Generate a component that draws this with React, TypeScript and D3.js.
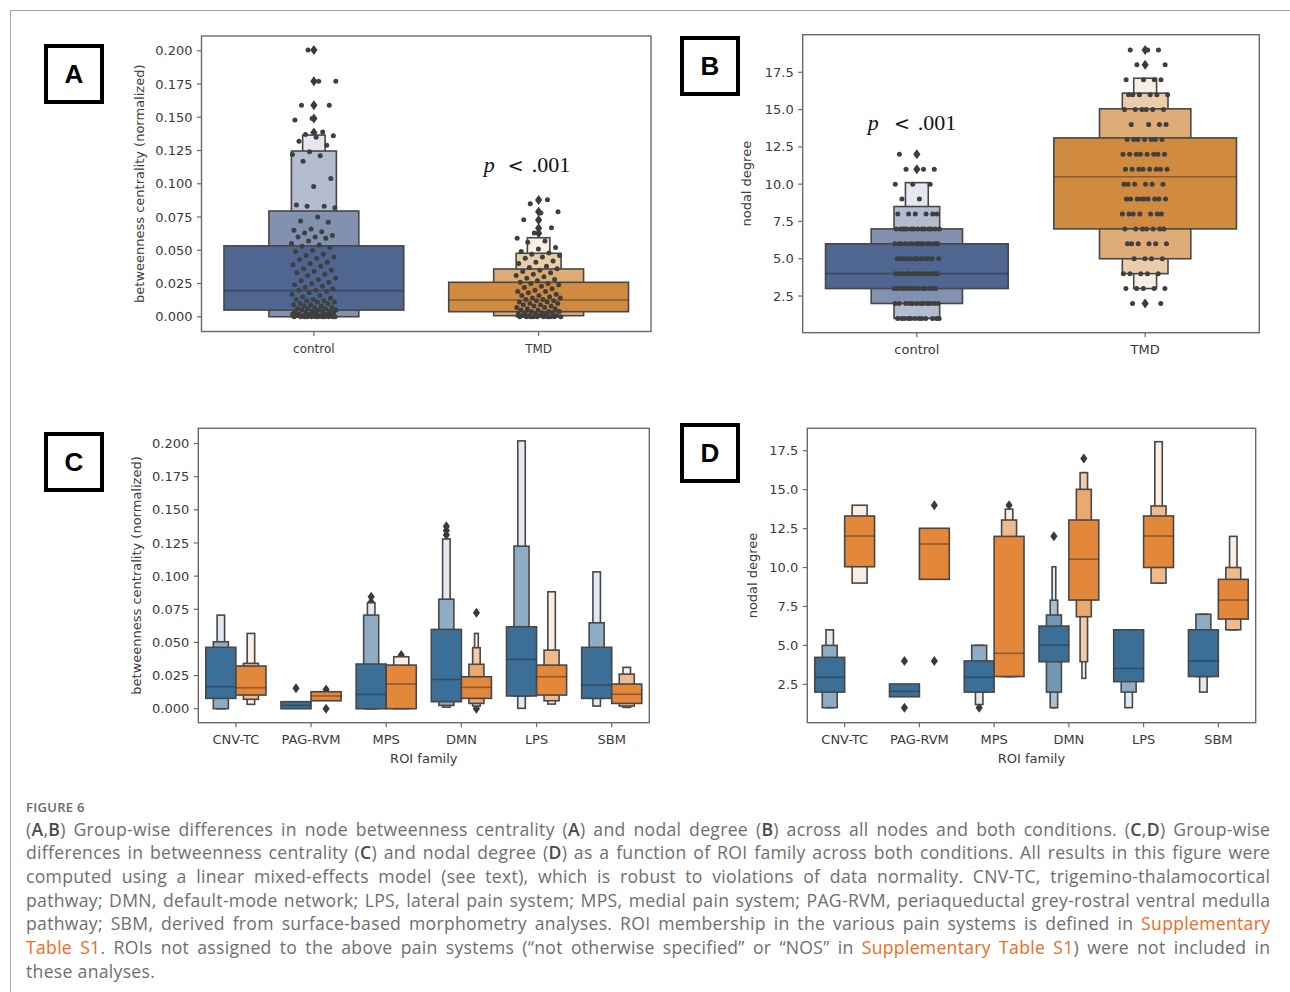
import React, { useEffect, useMemo } from "react";
import * as d3 from "d3";

// ---------------- DATA ----------------
const groupsAB = ["control", "TMD"];
const families = ["CNV-TC", "PAG-RVM", "MPS", "DMN", "LPS", "SBM"];
const betweennessTicks = [0, 0.025, 0.05, 0.075, 0.1, 0.125, 0.15, 0.175, 0.2];
const degreeTicks = [2.5, 5, 7.5, 10, 12.5, 15, 17.5];

// Panel A – letter-value boxes, innermost first: [low, high]
const aControlBoxes = [[0.005, 0.0533], [0.0, 0.0795], [0.0, 0.1246], [0.0, 0.1366]];
const aControlMedian = 0.0196;
const aControlOutliers = [0.1385, 0.149, 0.159, 0.177, 0.2005];
const aTmdBoxes = [[0.0038, 0.0259], [0.0008, 0.0359], [0.0, 0.0477], [0.0, 0.0594]];
const aTmdMedian = 0.0126;
const aTmdOutliers = [0.0627, 0.0665, 0.0727, 0.079, 0.0877];
const aControlPoints = [
  0.2005, 0.177, 0.177, 0.159, 0.159, 0.149, 0.148, 0.139, 0.137, 0.136, 0.135, 0.132, 0.129, 0.124,
  0.122, 0.121, 0.117, 0.104, 0.098, 0.084, 0.083, 0.083, 0.082, 0.075, 0.072, 0.071, 0.066, 0.065,
  0.064, 0.063, 0.061, 0.06, 0.06, 0.059, 0.057, 0.055, 0.054, 0.053, 0.052, 0.05, 0.049, 0.047, 0.046,
  0.045, 0.044, 0.043, 0.041, 0.04, 0.039, 0.038, 0.036, 0.035, 0.034, 0.033, 0.032, 0.031, 0.029,
  0.028, 0.027, 0.026, 0.025, 0.024, 0.023, 0.022, 0.021, 0.02, 0.02, 0.019, 0.018, 0.017, 0.016,
  0.015, 0.014, 0.013, 0.013, 0.012, 0.012, 0.011, 0.011, 0.01, 0.01, 0.009, 0.009, 0.008, 0.008,
  0.007, 0.007, 0.006, 0.006, 0.006, 0.005, 0.005, 0.005, 0.004, 0.004, 0.004, 0.003, 0.003, 0.003,
  0.003, 0.002, 0.002, 0.002, 0.002, 0.001, 0.001, 0.001, 0.001, 0.001, 0, 0, 0, 0, 0, 0, 0, 0, 0, 0,
  0, 0,
];
const aTmdPoints = [
  0.088, 0.085, 0.079, 0.078, 0.073, 0.067, 0.063, 0.059, 0.057, 0.056, 0.052, 0.051, 0.049, 0.048,
  0.047, 0.046, 0.045, 0.044, 0.042, 0.041, 0.04, 0.038, 0.037, 0.036, 0.035, 0.034, 0.033, 0.032,
  0.031, 0.03, 0.029, 0.028, 0.027, 0.026, 0.025, 0.025, 0.024, 0.023, 0.022, 0.021, 0.02, 0.019,
  0.019, 0.018, 0.017, 0.016, 0.016, 0.015, 0.014, 0.014, 0.013, 0.013, 0.012, 0.012, 0.011, 0.011,
  0.01, 0.01, 0.009, 0.009, 0.008, 0.008, 0.007, 0.007, 0.006, 0.006, 0.005, 0.005, 0.004, 0.004,
  0.004, 0.003, 0.003, 0.003, 0.002, 0.002, 0.002, 0.001, 0.001, 0.001, 0.001, 0, 0, 0, 0, 0, 0, 0,
  0, 0, 0,
];

// Panel B – nodal degree
const bControlBoxes = [[3, 6], [2, 7], [1, 8.5], [1, 10.1]];
const bControlMedian = 4;
const bControlOutliers = [11, 12];
const bTmdBoxes = [[7, 13.1], [5, 15.05], [4, 16.1], [3, 17.1]];
const bTmdMedian = 10.5;
const bTmdOutliers = [2, 18, 19];
const bDegreeLevels = [1, 2, 3, 4, 5, 6, 7, 8, 9, 10, 11, 12, 13, 14, 15, 16, 17, 18, 19];
const bControlCounts = [12, 12, 14, 14, 12, 15, 14, 6, 2, 3, 3, 2, 0, 0, 0, 0, 0, 0, 0];
const bTmdCounts = [0, 2, 5, 5, 4, 6, 7, 7, 9, 6, 8, 8, 7, 4, 6, 6, 4, 2, 3];

// Panel C – betweenness by ROI family
const cControlBoxes = [
  [[0.0078, 0.0463], [0.0, 0.0505], [0.0, 0.0706]],
  [[0.0, 0.0053]],
  [[0.0, 0.0337], [0.0, 0.0706], [0.0, 0.0799]],
  [[0.0053, 0.0598], [0.0025, 0.0826], [0.0012, 0.128]],
  [[0.0096, 0.0618], [0.0096, 0.1226], [0.0003, 0.202]],
  [[0.0078, 0.0463], [0.0078, 0.0648], [0.002, 0.1032]],
];
const cControlMedians = [0.0166, 0.0025, 0.0108, 0.0221, 0.0372, 0.0179];
const cControlOutliers = [[], [0.0154], [0.0805, 0.0845], [0.131, 0.1345, 0.1377], [], []];
const cTmdBoxes = [
  [[0.0103, 0.0322], [0.0071, 0.0342], [0.0033, 0.0568]],
  [[0.006, 0.0128]],
  [[0.0, 0.0329], [0.0, 0.0392]],
  [[0.0078, 0.0241], [0.004, 0.0335], [0.002, 0.046], [0.001, 0.0568]],
  [[0.0103, 0.0329], [0.006, 0.0442], [0.0035, 0.0882]],
  [[0.004, 0.0186], [0.002, 0.0261], [0.001, 0.0312]],
];
const cTmdMedians = [0.0158, 0.0096, 0.0186, 0.0161, 0.0241, 0.0109];
const cTmdOutliers = [[], [0.0, 0.0145], [0.0405], [0.0, 0.0723], [], []];

// Panel D – nodal degree by ROI family
const dControlBoxes = [
  [[2.0, 4.23], [1.0, 5.0], [1.0, 6.0]],
  [[1.7, 2.52]],
  [[2.0, 4.0], [2.0, 5.0], [1.2, 5.0]],
  [[3.95, 6.24], [2.0, 6.95], [1.0, 7.9], [1.0, 10.05]],
  [[2.67, 6.0], [2.0, 6.0], [1.0, 6.0]],
  [[3.0, 6.0], [3.0, 7.0], [2.0, 7.0]],
];
const dControlMedians = [2.95, 2.05, 2.95, 5.02, 3.52, 4.01];
const dControlOutliers = [[], [1, 4], [1], [12], [], []];
const dTmdBoxes = [
  [[10.05, 13.31], [9.0, 14.0]],
  [[9.24, 12.52]],
  [[3.0, 12.0], [3.0, 13.05], [3.0, 13.75]],
  [[7.91, 13.05], [6.84, 15.02], [3.95, 16.09], [2.88, 16.09]],
  [[10.0, 13.31], [9.0, 13.95], [9.0, 18.08]],
  [[6.69, 9.24], [6.0, 10.0], [6.0, 12.0]],
];
const dTmdMedians = [12.02, 11.51, 4.49, 10.53, 12.02, 7.91];
const dTmdOutliers = [[], [4, 14], [14], [17], [], []];

const captionLines = [
  "(**A**,**B**) Group-wise differences in node betweenness centrality (**A**) and nodal degree (**B**) across all nodes and both conditions. (**C**,**D**) Group-wise",
  "differences in betweenness centrality (**C**) and nodal degree (**D**) as a function of ROI family across both conditions. All results in this figure were",
  "computed using a linear mixed-effects model (see text), which is robust to violations of data normality. CNV-TC, trigemino-thalamocortical",
  "pathway; DMN, default-mode network; LPS, lateral pain system; MPS, medial pain system; PAG-RVM, periaqueductal grey-rostral ventral medulla",
  "pathway; SBM, derived from surface-based morphometry analyses. ROI membership in the various pain systems is defined in ^^Supplementary^^",
  "^^Table^^ ^^S1^^. ROIs not assigned to the above pain systems (\u201cnot otherwise specified\u201d or \u201cNOS\u201d in ^^Supplementary^^ ^^Table^^ ^^S1^^) were not included in",
  "these analyses.",
];

// ---------------- STYLE ----------------
const EDGE = "#474747";
const SPINE = "#6e6868";
const TICKTXT = "#3a3a3a";
const BLUE_AB = "#4f6690";
const ORANGE_AB = "#d18b40";
const BLUE_CD = "#3b6f98";
const ORANGE_CD = "#e3873a";
const DOT = "#3f3f3f";
const SANS = "'DejaVu Sans', sans-serif";

const jit = (i: number) => ((i * 0.6180339887 + 0.37) % 1) * 2 - 1;

function levelColors(base: string, k: number) {
  return d3.range(k).map((i) => d3.interpolateRgb(base, "#ffffff")(k > 1 ? (0.85 * i) / (k - 1) : 0));
}

function Diamond({ cx, cy }: { cx: number; cy: number }) {
  return <path d={`M${cx},${cy - 5}L${cx + 3.6},${cy}L${cx},${cy + 5}L${cx - 3.6},${cy}Z`} fill="#3a3a3a" />;
}

function LetterValues({ boxes, median, outliers, cx, width, y, base }: any) {
  const k = boxes.length;
  const cols = levelColors(base, k);
  const els: any[] = [];
  outliers.forEach((o: number, i: number) => els.push(<Diamond key={"o" + i} cx={cx} cy={y(o)} />));
  for (let i = k - 1; i >= 0; i--) {
    const [lo, hi] = boxes[i];
    const w = width * Math.pow(0.5, i);
    els.push(
      <rect key={"b" + i} x={cx - w / 2} y={y(hi)} width={w} height={Math.max(0.5, y(lo) - y(hi))}
        fill={cols[i]} stroke={EDGE} strokeWidth={1.6} />
    );
  }
  els.push(
    <line key="m" x1={cx - width / 2} x2={cx + width / 2} y1={y(median)} y2={y(median)}
      stroke="#262626" strokeOpacity={0.45} strokeWidth={1.6} />
  );
  return <g>{els}</g>;
}

function Axes({ x0, x1, y0, y1, y, ticks, fmt, cats, xc, ylabel, ylabelX, xlabel, catFont }: any) {
  const f = d3.format(fmt);
  return (
    <g fontFamily={SANS}>
      <rect x={x0} y={y0} width={x1 - x0} height={y1 - y0} fill="none" stroke={SPINE} strokeWidth={1.4} />
      {ticks.map((t: number) => (
        <g key={t}>
          <line x1={x0 - 4.5} x2={x0} y1={y(t)} y2={y(t)} stroke={SPINE} strokeWidth={1.2} />
          <text x={x0 - 9} y={y(t)} dy="0.35em" textAnchor="end" fontSize={13} fill={TICKTXT}>{f(t)}</text>
        </g>
      ))}
      {cats.map((c: string) => (
        <g key={c}>
          <line x1={xc(c)} x2={xc(c)} y1={y1} y2={y1 + 4.5} stroke={SPINE} strokeWidth={1.2} />
          <text x={xc(c)} y={y1 + 21} textAnchor="middle" fontSize={catFont} fill={TICKTXT}>{c}</text>
        </g>
      ))}
      <text transform={`translate(${ylabelX},${(y0 + y1) / 2}) rotate(-90)`} textAnchor="middle" dy="0.35em"
        fontSize={13} fill={TICKTXT}>{ylabel}</text>
      {xlabel && (
        <text x={(x0 + x1) / 2} y={y1 + 40} textAnchor="middle" fontSize={13} fill={TICKTXT}>{xlabel}</text>
      )}
    </g>
  );
}

function PLabel({ x, y, cx, cy }: any) {
  return (
    <g>
      <text x={x} y={y} fontFamily="'Liberation Serif', serif" fontStyle="italic" fontSize={22} fill="#111">p</text>
      <text x={cx} y={y} fontFamily="'DejaVu Serif', serif" fontSize={19} fill="#111" textAnchor="middle">{"<"}</text>
      <text x={cy} y={y} fontFamily="'Liberation Serif', serif" fontSize={22} fill="#111">.001</text>
    </g>
  );
}

function LetterBox({ x, y, w, h, label }: any) {
  return (
    <g>
      <rect x={x + 2} y={y + 2} width={w - 4} height={h - 4} fill="#fff" stroke="#000" strokeWidth={4} />
      <text x={x + w / 2} y={y + h / 2} dy="0.36em" textAnchor="middle" fontFamily="'Liberation Sans', Arial, sans-serif"
        fontWeight="bold" fontSize={26} fill="#000">{label}</text>
    </g>
  );
}

function parseWord(word: string) {
  const segs: { t: string; kind: string }[] = [];
  const re = /\*\*([^*]+)\*\*|\^\^([^\^]+)\^\^|([^*\^]+)/g;
  let m;
  while ((m = re.exec(word))) {
    if (m[1]) segs.push({ t: m[1], kind: "b" });
    else if (m[2]) segs.push({ t: m[2], kind: "l" });
    else segs.push({ t: m[3], kind: "n" });
  }
  return segs;
}

function Caption() {
  const FS = 17.6;
  const LS = 0.3;
  const X0 = 26, X1 = 1270;
  const layout = useMemo(() => {
    const ctx = document.createElement("canvas").getContext("2d")!;
    const fontFor = (k: string) => `${k === "b" ? 600 : 400} ${FS}px "Open Sans"`;
    ctx.font = fontFor("n");
    const space = ctx.measureText(" ").width + LS;
    return captionLines.map((line, li) => {
      const words = line.split(" ").map(parseWord);
      const widths = words.map((segs) =>
        segs.reduce((s, sg) => {
          ctx.font = fontFor(sg.kind);
          return s + ctx.measureText(sg.t).width + LS * sg.t.length;
        }, 0)
      );
      const total = widths.reduce((a, b) => a + b, 0);
      const last = li === captionLines.length - 1;
      const gap = last ? space : (X1 - X0 - total + LS) / (words.length - 1);
      let x = X0;
      const xs = widths.map((w) => { const r = x; x += w + gap; return r; });
      return { words, xs };
    });
  }, []);
  return (
    <g fontFamily="'Open Sans', sans-serif" fontSize={FS} letterSpacing={LS}>
      <text x={26} y={811.5} fontSize={13} fontWeight={600} fill="#6a6a6a" letterSpacing={0.3}>FIGURE 6</text>
      {layout.map((ln, li) => (
        <text key={li} y={835.5 + li * 23.7} fill="#6e6e6e">
          {ln.words.map((segs, wi) =>
            segs.map((sg, si) => (
              <tspan key={wi + "_" + si} x={si === 0 ? ln.xs[wi] : undefined}
                fontWeight={sg.kind === "b" ? 600 : 400}
                fill={sg.kind === "l" ? "#f06a22" : sg.kind === "b" ? "#4a4a4a" : "#6e6e6e"}>{sg.t}</tspan>
            ))
          )}
        </text>
      ))}
    </g>
  );
}

export default function App() {
  useEffect(() => {
    document.body.style.margin = "0";
  }, []);

  // Panel A
  const A = { x0: 201.5, x1: 651, y0: 36, y1: 331.5 };
  const ayA = d3.scaleLinear().domain([-0.0111, 0.2111]).range([A.y1, A.y0]);
  const axA = d3.scaleBand().domain(groupsAB).range([A.x0, A.x1]);
  const cA = (g: string) => (axA(g) as number) + axA.bandwidth() / 2;
  const bwA = axA.bandwidth();

  // Panel B
  const B = { x0: 802.7, x1: 1259.3, y0: 34.7, y1: 332.7 };
  const ayB = d3.scaleLinear().domain([0.04, 20.02]).range([B.y1, B.y0]);
  const axB = d3.scaleBand().domain(groupsAB).range([B.x0, B.x1]);
  const cB = (g: string) => (axB(g) as number) + axB.bandwidth() / 2;
  const bwB = axB.bandwidth();

  // Panel C
  const C = { x0: 198.3, x1: 649.3, y0: 428.3, y1: 722.7 };
  const ayC = d3.scaleLinear().domain([-0.01055, 0.2115]).range([C.y1, C.y0]);
  const axC = d3.scaleBand().domain(families).range([C.x0, C.x1]);
  const cC = (g: string) => (axC(g) as number) + axC.bandwidth() / 2;
  const bwC = axC.bandwidth();

  // Panel D
  const D = { x0: 807.3, x1: 1255.7, y0: 428.3, y1: 722.7 };
  const ayD = d3.scaleLinear().domain([0.034, 18.94]).range([D.y1, D.y0]);
  const axD = d3.scaleBand().domain(families).range([D.x0, D.x1]);
  const cD = (g: string) => (axD(g) as number) + axD.bandwidth() / 2;
  const bwD = axD.bandwidth();

  const expand = (counts: number[]) =>
    bDegreeLevels.flatMap((v, i) => d3.range(counts[i]).map(() => v));
  const bControlPts = expand(bControlCounts);
  const bTmdPts = expand(bTmdCounts);

  return (
    <svg width={1290} height={992} style={{ position: "absolute", left: 0, top: 0, display: "block" }}
      xmlns="http://www.w3.org/2000/svg">
      <rect x={0} y={0} width={1290} height={992} fill="#fff" />
      <line x1={10} y1={10.5} x2={1290} y2={10.5} stroke="#a9a9a9" strokeWidth={1} />
      <line x1={10.5} y1={10} x2={10.5} y2={992} stroke="#a9a9a9" strokeWidth={1} />

      {/* Panel A */}
      <LetterValues boxes={aControlBoxes} median={aControlMedian} outliers={aControlOutliers}
        cx={cA("control")} width={bwA * 0.8} y={ayA} base={BLUE_AB} />
      <LetterValues boxes={aTmdBoxes} median={aTmdMedian} outliers={aTmdOutliers}
        cx={cA("TMD")} width={bwA * 0.8} y={ayA} base={ORANGE_AB} />
      {aControlPoints.map((v, i) => (
        <circle key={"ac" + i} cx={cA("control") + jit(i) * 0.1 * bwA} cy={ayA(v)} r={2.5} fill={DOT} />
      ))}
      {aTmdPoints.map((v, i) => (
        <circle key={"at" + i} cx={cA("TMD") + jit(i + 7) * 0.1 * bwA} cy={ayA(v)} r={2.5} fill={DOT} />
      ))}
      <Axes {...A} y={ayA} ticks={betweennessTicks} fmt=".3f" cats={groupsAB} xc={cA}
        ylabel="betweenness centrality (normalized)" ylabelX={139} catFont={12} />
      <PLabel x={cA("TMD") - 55} cx={cA("TMD") - 23} cy={cA("TMD") - 7} y={ayA(0.109)} />

      {/* Panel B */}
      <LetterValues boxes={bControlBoxes} median={bControlMedian} outliers={bControlOutliers}
        cx={cB("control")} width={bwB * 0.8} y={ayB} base={BLUE_AB} />
      <LetterValues boxes={bTmdBoxes} median={bTmdMedian} outliers={bTmdOutliers}
        cx={cB("TMD")} width={bwB * 0.8} y={ayB} base={ORANGE_AB} />
      {bControlPts.map((v, i) => (
        <circle key={"bc" + i} cx={cB("control") + jit(i) * 0.1 * bwB} cy={ayB(v)} r={2.5} fill={DOT} />
      ))}
      {bTmdPts.map((v, i) => (
        <circle key={"bt" + i} cx={cB("TMD") + jit(i + 3) * 0.1 * bwB} cy={ayB(v)} r={2.5} fill={DOT} />
      ))}
      <Axes {...B} y={ayB} ticks={degreeTicks} fmt=".1f" cats={groupsAB} xc={cB}
        ylabel="nodal degree" ylabelX={746.5} catFont={13} />
      <PLabel x={cB("control") - 49} cx={cB("control") - 15} cy={cB("control") + 1} y={ayB(13.63)} />

      {/* Panel C */}
      {families.map((f, i) => (
        <g key={"c" + f}>
          <LetterValues boxes={cControlBoxes[i]} median={cControlMedians[i]} outliers={cControlOutliers[i]}
            cx={cC(f) - 0.2 * bwC} width={bwC * 0.4} y={ayC} base={BLUE_CD} />
          <LetterValues boxes={cTmdBoxes[i]} median={cTmdMedians[i]} outliers={cTmdOutliers[i]}
            cx={cC(f) + 0.2 * bwC} width={bwC * 0.4} y={ayC} base={ORANGE_CD} />
        </g>
      ))}
      <Axes {...C} y={ayC} ticks={betweennessTicks} fmt=".3f" cats={families} xc={cC}
        ylabel="betweenness centrality (normalized)" ylabelX={136.5} xlabel="ROI family" catFont={13} />

      {/* Panel D */}
      {families.map((f, i) => (
        <g key={"d" + f}>
          <LetterValues boxes={dControlBoxes[i]} median={dControlMedians[i]} outliers={dControlOutliers[i]}
            cx={cD(f) - 0.2 * bwD} width={bwD * 0.4} y={ayD} base={BLUE_CD} />
          <LetterValues boxes={dTmdBoxes[i]} median={dTmdMedians[i]} outliers={dTmdOutliers[i]}
            cx={cD(f) + 0.2 * bwD} width={bwD * 0.4} y={ayD} base={ORANGE_CD} />
        </g>
      ))}
      <Axes {...D} y={ayD} ticks={degreeTicks} fmt=".1f" cats={families} xc={cD}
        ylabel="nodal degree" ylabelX={752} xlabel="ROI family" catFont={13} />

      <LetterBox x={44} y={44} w={60} h={60} label="A" />
      <LetterBox x={680} y={36} w={60} h={60} label="B" />
      <LetterBox x={44} y={432} w={60} h={60} label="C" />
      <LetterBox x={680} y={423} w={60} h={60} label="D" />

      <Caption />
    </svg>
  );
}
